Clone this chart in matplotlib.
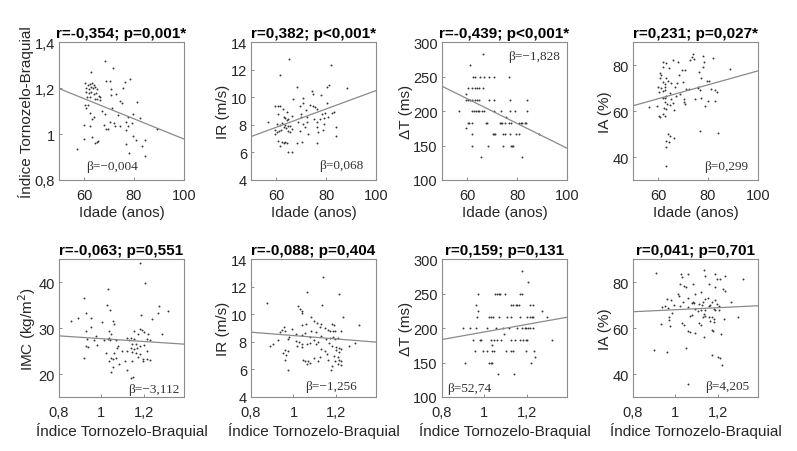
import matplotlib
matplotlib.use("Agg")
import matplotlib.pyplot as plt
from matplotlib.ticker import FuncFormatter

plt.rcParams['font.family'] = ['Liberation Sans', 'DejaVu Sans']

# ---- data ----
# panel 1: idade x ITB
p1_x = [57.2, 68.2, 71.5, 62.7, 68.8, 70.4, 78.4, 76.4, 75.5, 60.5, 61.4, 62.2, 63.1, 63.8, 60.9, 61.8,
        62.7, 63.5, 64.5, 65.1, 60.9, 61.8, 62.7, 63.8, 64.9, 65.8, 66.4, 61.1, 62.5, 64.2, 65.1, 66.4,
        70.7, 70.7, 72.8, 74.4, 75.1, 81.0, 60.5, 61.4, 60.9, 67.1, 71.1, 63.8, 63.1, 62.5, 68.4, 73.7,
        77.7, 79.4, 82.4, 79.0, 76.8, 77.7, 71.8, 70.2, 67.8, 69.4, 72.4, 60.1, 62.2, 68.8, 74.4, 76.8,
        89.3, 79.7, 63.1, 60.1, 65.1, 64.5, 65.5, 76.8, 80.8, 84.3, 83.0, 78.1, 84.3]
p1_y = [0.936, 1.319, 1.289, 1.270, 1.231, 1.231, 1.238, 1.226, 1.202, 1.221, 1.215, 1.218, 1.221, 1.212,
        1.202, 1.198, 1.206, 1.200, 1.206, 1.195, 1.183, 1.177, 1.183, 1.173, 1.180, 1.166, 1.159, 1.163,
        1.159, 1.154, 1.151, 1.148, 1.195, 1.170, 1.173, 1.144, 1.137, 1.140, 1.125, 1.125, 1.114, 1.101,
        1.115, 1.072, 1.065, 1.093, 1.086, 1.083, 1.072, 1.086, 1.069, 1.050, 1.053, 1.036, 1.050, 1.054,
        1.039, 1.024, 1.033, 1.039, 1.036, 1.021, 1.033, 1.018, 1.021, 0.992, 0.989, 0.978, 0.966, 0.962,
        0.971, 0.956, 0.975, 0.975, 0.949, 0.917, 0.906]

# panel 2: idade x IR
p2_x = [65.3, 82.1, 61.6, 81.2, 68.3, 80.2, 88.5, 74.2, 74.6, 77.8, 70.9, 66.9, 59.7, 60.6, 61.6, 70.9,
        73.5, 74.9, 75.5, 76.5, 69.6, 80.2, 72.0, 64.3, 62.7, 83.2, 82.5, 79.5, 78.2, 69.8, 63.0, 63.6,
        66.3, 72.2, 70.0, 64.3, 64.9, 60.6, 75.1, 77.5, 79.1, 80.8, 56.9, 68.9, 72.5, 76.5, 79.2, 60.3,
        61.4, 62.3, 63.6, 64.6, 63.0, 65.6, 70.9, 71.6, 66.3, 64.0, 62.0, 76.2, 83.9, 59.7, 60.3, 61.0,
        64.9, 65.6, 69.6, 76.9, 78.8, 72.9, 59.4, 83.9, 60.7, 62.3, 63.0, 63.6, 61.4, 68.3, 70.2, 64.3,
        76.5, 64.9, 66.3]
p2_y = [12.79, 12.35, 11.58, 10.90, 10.73, 10.73, 10.66, 10.42, 10.25, 10.13, 9.93, 9.88, 9.40, 9.40,
        9.35, 9.59, 9.45, 9.35, 9.28, 9.16, 9.35, 9.59, 9.04, 8.96, 9.16, 8.96, 8.87, 8.87, 8.79, 8.79,
        8.55, 8.48, 8.67, 8.55, 8.55, 8.38, 8.43, 8.79, 8.43, 8.43, 8.48, 8.55, 8.24, 8.24, 8.19, 8.19,
        8.07, 8.07, 8.00, 8.14, 8.00, 7.95, 7.83, 7.90, 8.07, 7.83, 7.70, 7.75, 7.66, 7.83, 7.83, 7.66,
        7.46, 7.58, 7.58, 7.51, 7.58, 7.46, 7.66, 7.34, 7.34, 7.22, 6.86, 6.78, 6.69, 6.74, 6.49, 6.69,
        6.74, 6.69, 6.66, 6.06, 6.06]

# panel 3: idade x delta T (quantised values)
p3_x = [66.5, 61.3,
        62.3, 63.2, 65.2, 66.9, 68.9, 70.6, 76.8,
        60.3, 62.1, 63.2, 64.0, 64.8, 66.5,
        59.6,
        59.5, 60.3, 61.2, 62.1, 63.2, 63.9, 64.8, 68.9, 70.8, 77.0, 84.0,
        56.6, 61.9, 62.7, 63.5, 64.2, 64.9, 66.1, 66.8, 70.6, 73.5, 77.0, 79.0, 84.0,
        75.7,
        60.3, 60.8, 61.9, 67.4, 68.1, 73.1, 73.5, 74.0, 75.1, 76.8, 77.7, 80.6, 81.4, 81.9, 83.0, 83.4,
        59.6,
        61.9, 70.2, 70.7, 71.1, 74.4, 75.1, 77.0, 79.7, 80.6, 88.7,
        61.9, 68.5, 74.4, 77.4, 77.9, 78.4,
        65.6, 82.1]
p3_y = [283.3, 266.7,
        250, 250, 250, 250, 250, 250, 250,
        233.3, 233.3, 233.3, 233.3, 233.3, 233.3,
        225,
        216.7, 216.7, 216.7, 216.7, 216.7, 216.7, 216.7, 216.7, 216.7, 216.7, 216.7,
        200, 200, 200, 200, 200, 200, 200, 200, 200, 200, 200, 200, 200,
        191.7,
        183.3, 183.3, 183.3, 183.3, 183.3, 183.3, 183.3, 183.3, 183.3, 183.3, 183.3, 183.3, 183.3, 183.3,
        183.3, 183.3,
        175,
        166.7, 166.7, 166.7, 166.7, 166.7, 166.7, 166.7, 166.7, 166.7, 166.7,
        150, 150, 150, 150, 150, 150,
        133.3, 133.3]

# panel 4: idade x IA
p4_x = [73.9, 73.5, 72.9, 74.2, 77.8, 82.1, 65.9, 61.9, 63.2, 67.9, 78.2, 77.8, 61.9, 64.2, 88.8, 69.6,
        70.8, 60.6, 61.0, 60.6, 68.5, 76.5, 63.0, 63.9, 77.1, 80.4, 79.5, 70.1, 65.0, 67.6, 61.9, 62.6,
        59.9, 61.0, 62.6, 66.9, 71.2, 72.2, 75.8, 76.1, 76.6, 81.1, 82.8, 83.7, 61.8, 62.7, 60.2, 64.6,
        68.9, 63.2, 67.2, 61.9, 62.6, 65.2, 70.5, 74.7, 77.1, 79.8, 82.8, 62.8, 63.6, 65.9, 70.5, 70.8,
        59.7, 64.9, 78.8, 62.3, 63.2, 66.3, 56.6, 60.2, 60.6, 61.9, 62.6, 76.9, 84.1, 63.9, 64.9, 66.3,
        63.0, 64.3, 63.2, 63.1]
p4_y = [84.8, 83.5, 82.4, 82.8, 83.8, 83.0, 82.2, 81.3, 81.0, 81.2, 81.2, 79.0, 79.0, 78.6, 78.3, 77.8,
        77.8, 76.5, 75.8, 74.6, 75.7, 77.1, 74.2, 73.2, 74.6, 73.2, 72.9, 72.8, 72.2, 72.2, 72.5, 71.7,
        70.6, 70.1, 70.4, 70.3, 69.6, 69.6, 69.9, 70.6, 69.1, 69.6, 69.0, 68.4, 68.8, 69.3, 68.1, 67.7,
        67.4, 66.4, 66.4, 65.6, 65.8, 65.2, 65.2, 65.2, 65.5, 64.5, 64.5, 63.8, 63.2, 63.5, 63.8, 63.2,
        62.3, 62.6, 62.0, 61.2, 60.9, 60.6, 61.6, 57.9, 57.2, 58.7, 57.7, 51.4, 50.4, 49.9, 49.2, 48.1,
        47.0, 46.7, 44.2, 36.2]

# panel 5: ITB x IMC
p5_x = [1.184, 1.033, 1.205, 0.919, 1.270, 1.025, 1.039, 1.314, 0.927, 1.266, 1.188, 0.892, 1.239, 0.856,
        1.056, 0.950, 1.002, 0.953, 1.059, 1.184, 1.192, 1.200, 1.153, 1.038, 0.927, 1.044, 1.286, 1.173,
        1.219, 0.973, 1.036, 1.031, 1.039, 1.122, 1.141, 1.153, 1.130, 0.931, 0.963, 1.216, 1.228, 1.013,
        1.067, 1.145, 1.161, 0.927, 0.938, 0.981, 1.080, 1.072, 1.200, 1.184, 1.138, 1.153, 1.169, 1.098,
        1.122, 1.145, 1.161, 1.184, 1.216, 1.020, 1.059, 1.044, 1.055, 1.067, 1.036, 1.173, 1.197, 1.216,
        1.227, 0.916, 1.111, 1.142, 1.197, 1.083, 1.056, 1.119, 1.044, 1.150, 1.141]
p5_y = [44.2, 38.5, 39.8, 36.6, 34.7, 35.1, 34.0, 33.7, 33.2, 33.2, 32.9, 32.2, 32.0, 31.5, 31.5, 32.2,
        31.3, 30.3, 30.9, 29.8, 29.6, 29.1, 29.3, 29.3, 29.3, 28.7, 28.7, 28.7, 28.7, 28.2, 27.9, 27.6,
        27.5, 27.9, 27.8, 27.6, 27.3, 27.7, 27.4, 27.6, 27.3, 27.3, 27.3, 26.5, 26.5, 26.0, 25.8, 26.4,
        26.2, 25.7, 26.4, 26.0, 25.7, 25.5, 25.7, 25.1, 24.9, 24.7, 24.5, 24.4, 24.9, 24.5, 24.5, 23.5,
        23.3, 23.5, 22.9, 23.6, 23.3, 23.3, 23.1, 23.5, 22.8, 22.9, 22.8, 22.2, 21.5, 20.9, 20.4, 19.3,
        19.1]

# panel 6: ITB x IR
p6_x = [1.139, 1.066, 1.214, 0.873, 1.134, 1.022, 1.030, 1.038, 1.042, 1.233, 1.084, 1.097, 1.111, 1.131,
        1.061, 1.038, 0.956, 0.947, 1.189, 1.181, 1.311, 1.127, 1.147, 1.170, 0.994, 1.084, 1.108, 1.163,
        1.186, 1.197, 1.053, 1.011, 1.038, 1.225, 0.936, 0.959, 0.980, 0.975, 1.077, 1.097, 1.131, 1.155,
        1.170, 1.186, 1.194, 1.209, 0.928, 1.014, 1.025, 1.038, 0.889, 0.902, 1.108, 1.116, 1.077, 1.066,
        1.167, 1.183, 1.202, 1.214, 1.225, 1.264, 1.288, 1.017, 1.038, 0.959, 0.972, 0.952, 0.967, 1.131,
        1.150, 1.159, 1.202, 1.213, 1.097, 1.116, 1.127, 1.163, 1.194, 1.189, 1.209, 1.217, 1.225, 1.183,
        1.209, 1.222, 1.045, 1.053, 1.069, 1.066, 1.077, 0.959, 0.975, 1.178]
p6_y = [12.72, 11.59, 11.47, 10.82, 10.67, 10.63, 10.39, 10.22, 10.07, 9.78, 9.78, 9.49, 9.35, 9.30,
        9.30, 9.25, 9.11, 8.87, 9.25, 9.30, 9.25, 9.11, 9.01, 8.82, 8.94, 8.82, 8.70, 8.87, 8.77, 8.77,
        8.63, 8.58, 8.53, 8.77, 8.70, 8.82, 8.34, 8.22, 8.34, 8.14, 8.46, 8.22, 8.29, 8.34, 8.22, 8.29,
        8.14, 8.05, 7.98, 7.86, 7.73, 7.81, 7.86, 7.98, 7.90, 7.81, 7.90, 7.73, 7.66, 7.57, 7.49, 7.73,
        7.90, 7.69, 7.61, 7.42, 7.33, 7.18, 7.08, 7.49, 7.33, 7.13, 7.42, 7.25, 6.84, 6.60, 6.89, 6.70,
        6.60, 6.94, 6.89, 6.65, 6.58, 6.22, 6.41, 6.29, 6.65, 6.60, 6.60, 6.41, 6.46, 6.65, 5.93, 5.98]

# panel 7: ITB x delta T
p7_x = [1.179, 1.206,
        0.971, 1.051, 1.059, 1.067, 1.075, 1.099, 1.166, 1.179,
        0.958, 1.126, 1.134, 1.147, 1.154, 1.163, 1.214, 1.227,
        0.971, 1.270,
        0.963, 1.022, 1.030, 1.042, 1.070, 1.106, 1.126, 1.170, 1.203, 1.214, 1.222, 1.230, 1.294,
        0.899, 0.930, 0.958, 1.014, 1.054, 1.086, 1.118, 1.154, 1.179, 1.190, 1.198, 1.206, 1.214, 1.230,
        1.094,
        0.947, 0.978, 0.982, 1.030, 1.046, 1.059, 1.078, 1.126, 1.142, 1.170, 1.182, 1.194, 1.203, 1.318,
        1.035,
        0.954, 0.994, 1.014, 1.038, 1.046, 1.102, 1.126, 1.134, 1.195, 1.234,
        1.238,
        0.910, 1.022, 1.030, 1.038, 1.219,
        1.066, 1.139]
p7_y = [283.3, 266.7,
        250, 250, 250, 250, 250, 250, 250, 250,
        233.3, 233.3, 233.3, 233.3, 233.3, 233.3, 233.3, 233.3,
        225, 225,
        216.7, 216.7, 216.7, 216.7, 216.7, 216.7, 216.7, 216.7, 216.7, 216.7, 216.7, 216.7, 216.7,
        200, 200, 200, 200, 200, 200, 200, 200, 200, 200, 200, 200, 200, 200,
        191.7,
        183.3, 183.3, 183.3, 183.3, 183.3, 183.3, 183.3, 183.3, 183.3, 183.3, 183.3, 183.3, 183.3, 183.3,
        175,
        166.7, 166.7, 166.7, 166.7, 166.7, 166.7, 166.7, 166.7, 166.7, 166.7,
        158.3,
        150, 150, 150, 150, 150,
        133.3, 133.3]

# panel 8: ITB x IA
p8_x = [0.909, 1.136, 1.026, 1.061, 1.186, 1.234, 1.138, 1.195, 1.208, 1.317, 1.029, 1.042, 1.048, 1.021,
        1.082, 1.160, 1.189, 1.122, 1.226, 1.232, 1.093, 1.013, 1.016, 1.155, 1.139, 1.061, 0.962, 0.978,
        1.187, 1.171, 1.082, 1.088, 1.128, 1.261, 0.992, 1.034, 1.077, 1.109, 1.125, 1.165, 1.157, 1.197,
        1.205, 0.939, 0.952, 0.965, 1.021, 1.061, 1.093, 1.106, 1.122, 1.141, 1.181, 1.189, 1.205, 0.984,
        1.133, 1.141, 1.067, 1.078, 1.157, 1.173, 1.181, 1.293, 0.930, 0.968, 0.968, 1.029, 1.042, 1.229,
        1.128, 1.109, 1.122, 1.165, 1.181, 1.061, 1.069, 1.093, 1.133, 1.173, 1.176, 1.213, 0.973, 0.898,
        0.962, 1.048, 1.173, 1.202, 1.208, 1.221, 1.058]
p8_y = [84.0, 85.1, 83.7, 83.4, 83.4, 82.6, 82.6, 81.5, 81.5, 81.2, 82.2, 78.5, 77.8, 79.3,
        79.3, 79.3, 77.8, 75.6, 76.8, 76.1, 74.9, 75.0, 73.8, 73.2, 72.5, 72.9, 72.6, 72.4,
        72.4, 71.5, 71.5, 70.9, 71.5, 71.5, 70.0, 71.2, 70.9, 70.4, 70.0, 70.0, 69.4, 70.4,
        69.7, 69.3, 69.5, 68.6, 69.4, 69.0, 68.5, 67.5, 67.9, 67.9, 68.5, 67.9, 67.9, 66.5,
        66.2, 65.4, 65.4, 65.8, 65.0, 64.6, 63.8, 65.0, 61.6, 64.7, 63.5, 62.0, 61.3, 63.8,
        64.6, 62.0, 61.3, 63.2, 62.5, 58.9, 58.5, 58.0, 56.2, 59.2, 58.8, 57.2, 60.9, 50.3,
        49.4, 51.3, 48.4, 47.2, 46.9, 44.0, 35.6]

# regression line ends (value at left / right x limit)
fit_ends = [(1.198, 0.978), (7.15, 10.49), (236.0, 146.0), (62.3, 77.5),
            (28.3, 26.5), (8.70, 7.98), (183.4, 215.7), (67.1, 69.7)]

titles = ["r=-0,354; p=0,001*", "r=0,382; p<0,001*", "r=-0,439; p<0,001*", "r=0,231; p=0,027*",
          "r=-0,063; p=0,551", "r=-0,088; p=0,404", "r=0,159; p=0,131", "r=0,041; p=0,701"]
betas = ["β=−0,004", "β=0,068", "β=−1,828", "β=0,299",
         "β=−3,112", "β=−1,256", "β=52,74", "β=4,205"]
ylabels = ["Índice Tornozelo-Braquial", "IR (m/s)", "ΔT (ms)", "IA (%)",
           "IMC (kg/m$^2$)", "IR (m/s)", "ΔT (ms)", "IA (%)"]
xlabels = ["Idade (anos)"] * 4 + ["Índice Tornozelo-Braquial"] * 4
ylims = [(0.8, 1.4), (4, 14), (100, 300), (30, 90), (15, 45), (4, 14), (100, 300), (30, 90)]
yticks = [[0.8, 1, 1.2, 1.4], [4, 6, 8, 10, 12, 14], [100, 150, 200, 250, 300], [40, 60, 80],
          [20, 30, 40], [4, 6, 8, 10, 12, 14], [100, 150, 200, 250, 300], [40, 60, 80]]
xs = [p1_x, p2_x, p3_x, p4_x, p5_x, p6_x, p7_x, p8_x]
ys = [p1_y, p2_y, p3_y, p4_y, p5_y, p6_y, p7_y, p8_y]

# beta label position in axes fraction
beta_pos = [(0.22, 0.10), (0.545, 0.11), (0.53, 0.90), (0.57, 0.105),
            (0.55, 0.06), (0.43, 0.08), (0.04, 0.065), (0.58, 0.08)]

comma = FuncFormatter(lambda v, pos: ('%g' % v).replace('.', ','))

fig = plt.figure(figsize=(7.97, 4.52), dpi=100)
lefts = [0.074, 0.315, 0.5546, 0.7942]
bottoms = [0.5996, 0.1195]
w, h = 0.157, 0.305

for i in range(8):
    ax = fig.add_axes([lefts[i % 4], bottoms[i // 4], w, h])
    if i < 4:
        xl = (50, 100)
        xt = [60, 80, 100]
    else:
        xl = (0.8, 1.39)
        xt = [0.8, 1, 1.2]
    ax.plot(xs[i], ys[i], '.', ms=2.8, color='#383838', mec='none')
    ax.plot(xl, fit_ends[i], color='#8a8a8a', lw=0.9)
    ax.set_xlim(xl)
    ax.set_ylim(ylims[i])
    ax.set_xticks(xt)
    ax.set_yticks(yticks[i])
    ax.xaxis.set_major_formatter(comma)
    ax.yaxis.set_major_formatter(comma)
    ax.tick_params(direction='in', length=2.5, width=0.6, labelsize=10.5,
                   colors='#7a7a7a', labelcolor='#262626', pad=3)
    ax.tick_params(axis='x', pad=6)
    for s in ax.spines.values():
        s.set_color('#8c8c8c')
        s.set_linewidth(0.8)
    ax.set_title(titles[i], fontsize=11, fontweight='bold', pad=4)
    ax.set_xlabel(xlabels[i], fontsize=11, color='#262626', labelpad=2)
    ax.set_ylabel(ylabels[i], fontsize=11, color='#262626', labelpad=0.5)
    ax.text(beta_pos[i][0], beta_pos[i][1], betas[i], transform=ax.transAxes,
            fontsize=9.5, family='Liberation Serif', color='#333333', va='center')

fig.savefig('out.png', dpi=100)
